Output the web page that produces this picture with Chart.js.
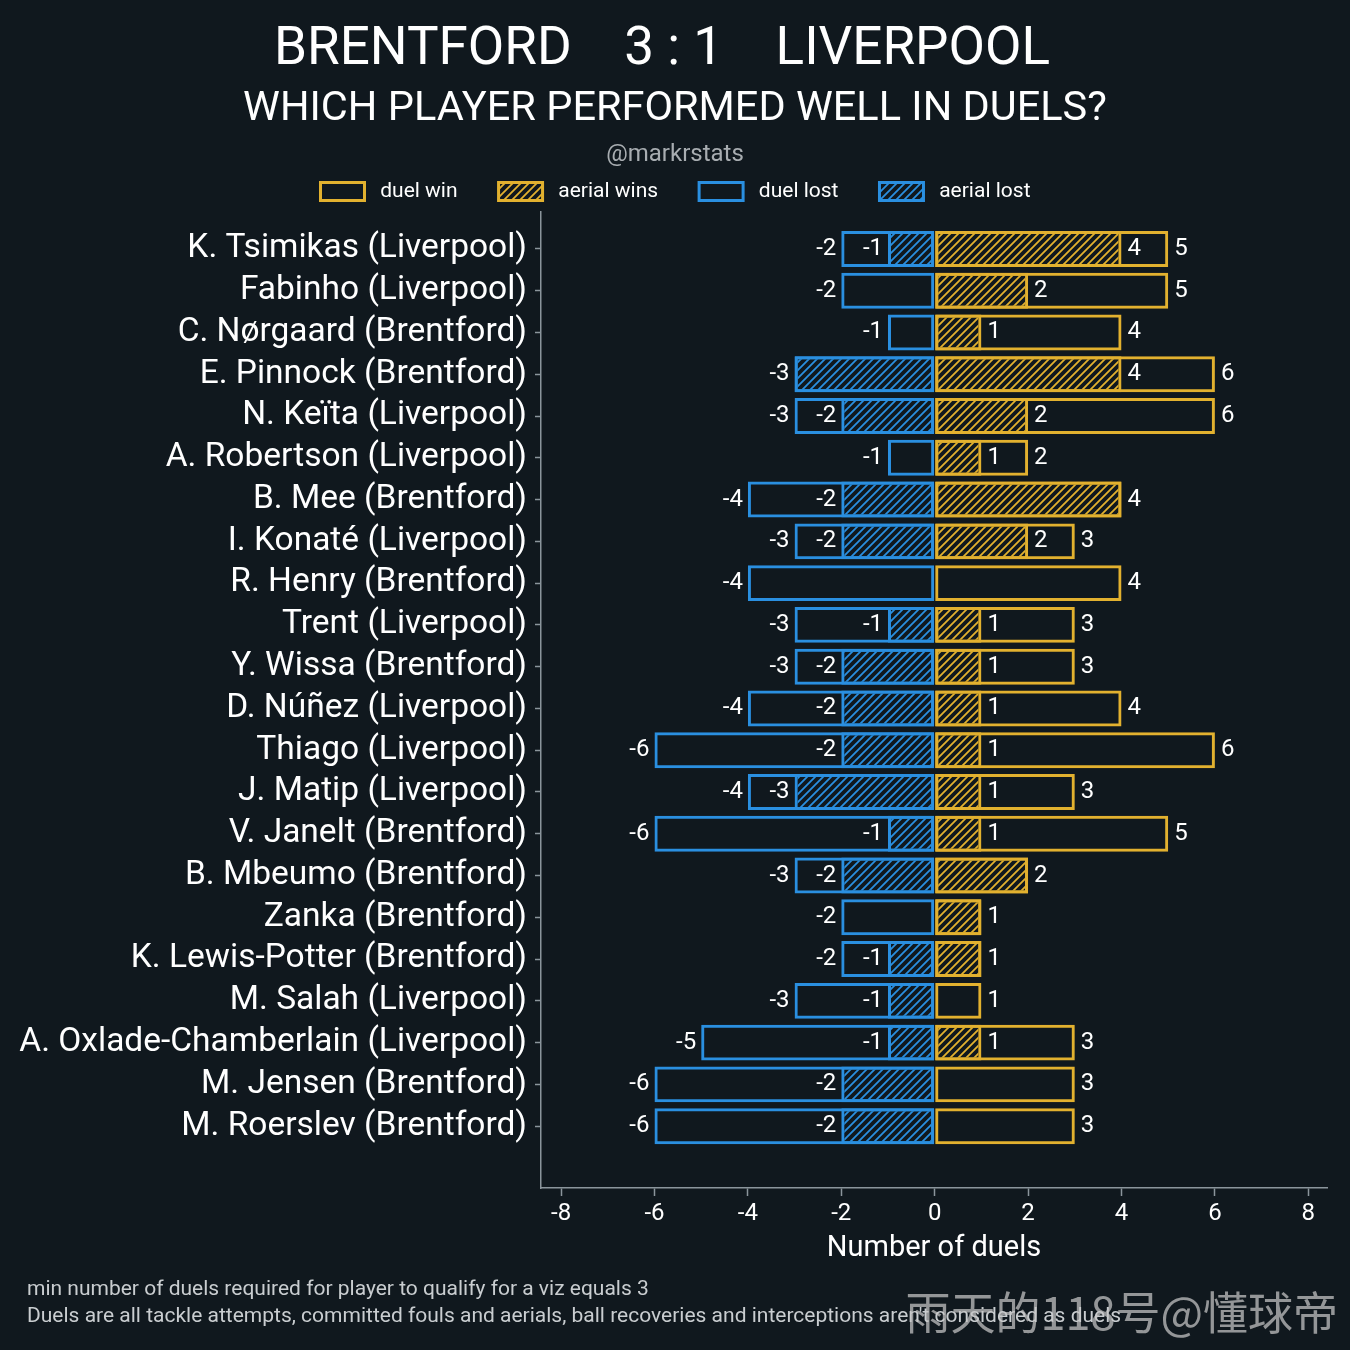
<!DOCTYPE html>
<html>
<head>
<meta charset="utf-8">
<script src="https://cdn.jsdelivr.net/npm/chart.js@4.4.1/dist/chart.umd.min.js"></script>
<style>
    html, body { margin: 0; padding: 0; background: #10181e; }
    #wrap { width: 1350px; height: 1350px; position: relative; }
</style>
</head>
<body>
<div id="wrap"><canvas id="duels"></canvas></div>
<script>
const players = [
    'K. Tsimikas (Liverpool)', 'Fabinho (Liverpool)', 'C. Nørgaard (Brentford)', 'E. Pinnock (Brentford)',
    'N. Keïta (Liverpool)', 'A. Robertson (Liverpool)', 'B. Mee (Brentford)', 'I. Konaté (Liverpool)',
    'R. Henry (Brentford)', 'Trent (Liverpool)', 'Y. Wissa (Brentford)', 'D. Núñez (Liverpool)',
    'Thiago (Liverpool)', 'J. Matip (Liverpool)', 'V. Janelt (Brentford)', 'B. Mbeumo (Brentford)',
    'Zanka (Brentford)', 'K. Lewis-Potter (Brentford)', 'M. Salah (Liverpool)',
    'A. Oxlade-Chamberlain (Liverpool)', 'M. Jensen (Brentford)', 'M. Roerslev (Brentford)'
];
const duelWins   = [5, 5, 4, 6, 6, 2, 4, 3, 4, 3, 3, 4, 6, 3, 5, 2, 1, 1, 1, 3, 3, 3];
const aerialWins = [4, 2, 1, 4, 2, 1, 4, 2, 0, 1, 1, 1, 1, 1, 1, 2, 1, 1, 0, 1, 0, 0];
const duelLost   = [-2, -2, -1, -3, -3, -1, -4, -3, -4, -3, -3, -4, -6, -4, -6, -3, -2, -2, -3, -5, -6, -6];
const aerialLost = [-1, 0, 0, -3, -2, 0, -2, -2, 0, -1, -2, -2, -2, -3, -1, -2, 0, -1, -1, -1, -2, -2];
const xTicks = [-8, -6, -4, -2, 0, 2, 4, 6, 8];

const GOLD = '#e2b12f';
const BLUE = '#2a8fe0';
const BG = '#10181e';
const SPINE = '#8b959c';
const FONT = 'Roboto, "Noto Sans", sans-serif';

const makeHatch = (color) => {
    const c = document.createElement('canvas');
    c.width = 8; c.height = 8;
    const g = c.getContext('2d');
    g.strokeStyle = color;
    g.lineWidth = 1.8;
    g.beginPath();
    g.moveTo(-2, 10); g.lineTo(10, -2);
    g.moveTo(-6, 6); g.lineTo(6, -6);
    g.moveTo(2, 14); g.lineTo(14, 2);
    g.stroke();
    return g.createPattern(c, 'repeat');
};

const toPoints = (arr) => arr.map((v, i) => ({ x: v === 0 ? null : v, y: i }));

const barStyle = { borderWidth: 3, borderSkipped: false, grouped: false, barPercentage: 0.86, categoryPercentage: 1 };

const datasets = [
    { label: 'duel win', data: toPoints(duelWins), backgroundColor: 'rgba(0,0,0,0)', borderColor: GOLD },
    { label: 'aerial wins', data: toPoints(aerialWins), backgroundColor: makeHatch(GOLD), borderColor: GOLD },
    { label: 'duel lost', data: toPoints(duelLost), backgroundColor: 'rgba(0,0,0,0)', borderColor: BLUE },
    { label: 'aerial lost', data: toPoints(aerialLost), backgroundColor: makeHatch(BLUE), borderColor: BLUE }
].map(ds => ({ ...ds, ...barStyle }));

const backdrop = {
    id: 'backdrop',
    afterLayout(chart) {
        // centre the legend on the canvas rather than on the padded box
        chart.legend.left += 12;
        chart.legend.right += 12;
    },
    beforeDraw(chart) {
        const { ctx, width, height } = chart;
        ctx.save();
        ctx.fillStyle = BG;
        ctx.fillRect(0, 0, width, height);
        ctx.restore();
    },
    afterDraw(chart) {
        const { ctx } = chart;
        ctx.save();
        ctx.textBaseline = 'middle';
        ctx.textAlign = 'center';
        ctx.fillStyle = '#ffffff';
        ctx.font = `53px ${FONT}`;
        ctx.fillText('BRENTFORD    3 : 1    LIVERPOOL', 662, 51);
        ctx.font = `41.5px ${FONT}`;
        ctx.fillText('WHICH PLAYER PERFORMED WELL IN DUELS?', 675, 110);
        ctx.fillStyle = '#a8adb1';
        ctx.font = `24px ${FONT}`;
        ctx.fillText('@markrstats', 675, 155);

        ctx.textAlign = 'left';
        ctx.fillStyle = '#c9cdd0';
        ctx.font = `21px ${FONT}`;
        ctx.fillText('min number of duels required for player to qualify for a viz equals 3', 27, 1290);
        ctx.fillText('Duels are all tackle attempts, committed fouls and aerials, ball recoveries and interceptions aren\'t considered as duels', 27, 1317);

        ctx.fillStyle = 'rgba(200,200,200,0.72)';
        ctx.font = `45px "Noto Sans CJK SC", sans-serif`;
        ctx.textAlign = 'right';
        ctx.fillText('雨天的118号@懂球帝', 1338, 1313);
        ctx.restore();
    }
};

const valueLabels = {
    id: 'valueLabels',
    afterDatasetsDraw(chart) {
        const { ctx, scales: { x, y } } = chart;
        ctx.save();
        ctx.font = `24px ${FONT}`;
        ctx.fillStyle = '#ffffff';
        ctx.textBaseline = 'middle';
        players.forEach((_, i) => {
            const py = y.getPixelForValue(i);
            ctx.textAlign = 'left';
            ctx.fillText(String(duelWins[i]), x.getPixelForValue(duelWins[i]) + 6, py);
            if (aerialWins[i] !== 0 && aerialWins[i] !== duelWins[i]) {
                ctx.fillText(String(aerialWins[i]), x.getPixelForValue(aerialWins[i]) + 6, py);
            }
            ctx.textAlign = 'right';
            ctx.fillText(String(duelLost[i]), x.getPixelForValue(duelLost[i]) - 5, py);
            if (aerialLost[i] !== 0 && aerialLost[i] !== duelLost[i]) {
                ctx.fillText(String(aerialLost[i]), x.getPixelForValue(aerialLost[i]) - 5, py);
            }
        });
        ctx.restore();
    }
};

const ctx = document.getElementById('duels').getContext('2d');

new Chart(ctx, {
    type: 'bar',
    data: { datasets },
    plugins: [backdrop, valueLabels],
    options: {
        indexAxis: 'y',
        responsive: true,
        maintainAspectRatio: false,
        animation: false,
        layout: { padding: { top: 140, right: 23, bottom: 80, left: 0 } },
        plugins: {
            tooltip: { enabled: false },
            legend: {
                position: 'top',
                labels: {
                    color: '#ffffff',
                    font: { family: FONT, size: 21 },
                    boxWidth: 44,
                    boxHeight: 18,
                    padding: 41,
                    generateLabels: (chart) => chart.data.datasets.map((ds, i) => ({
                        text: ' ' + ds.label,
                        fillStyle: ds.backgroundColor,
                        strokeStyle: ds.borderColor,
                        lineWidth: 3,
                        fontColor: '#ffffff',
                        hidden: false,
                        datasetIndex: i
                    }))
                }
            }
        },
        scales: {
            x: {
                type: 'linear',
                min: -8.43,
                max: 8.4,
                afterBuildTicks: (scale) => { scale.ticks = xTicks.map(v => ({ value: v })); },
                afterFit: (scale) => { scale.height = 82; },
                grid: { drawOnChartArea: false, drawTicks: true, tickLength: 8, tickColor: SPINE, tickWidth: 1.5 },
                border: { display: true, color: SPINE, width: 1.5 },
                ticks: { color: '#ffffff', font: { family: FONT, size: 24 }, padding: 4, maxRotation: 0 },
                title: { display: true, text: 'Number of duels', color: '#ffffff', font: { family: FONT, size: 29 }, padding: { top: 2, bottom: 4 } }
            },
            y: {
                type: 'linear',
                reverse: true,
                offset: false,
                min: -0.884,
                max: 22.48,
                afterBuildTicks: (scale) => { scale.ticks = players.map((_, i) => ({ value: i })); },
                afterFit: (scale) => { scale.width = 541; },
                grid: { offset: false, drawOnChartArea: false, drawTicks: true, tickLength: 6, tickColor: SPINE, tickWidth: 1.5 },
                border: { display: true, color: SPINE, width: 1.5 },
                ticks: {
                    color: '#ffffff',
                    font: { family: FONT, size: 33.5 },
                    padding: 8,
                    autoSkip: false,
                    callback: (value) => players[value] ?? ''
                }
            }
        }
    }
});
</script>
</body>
</html>
